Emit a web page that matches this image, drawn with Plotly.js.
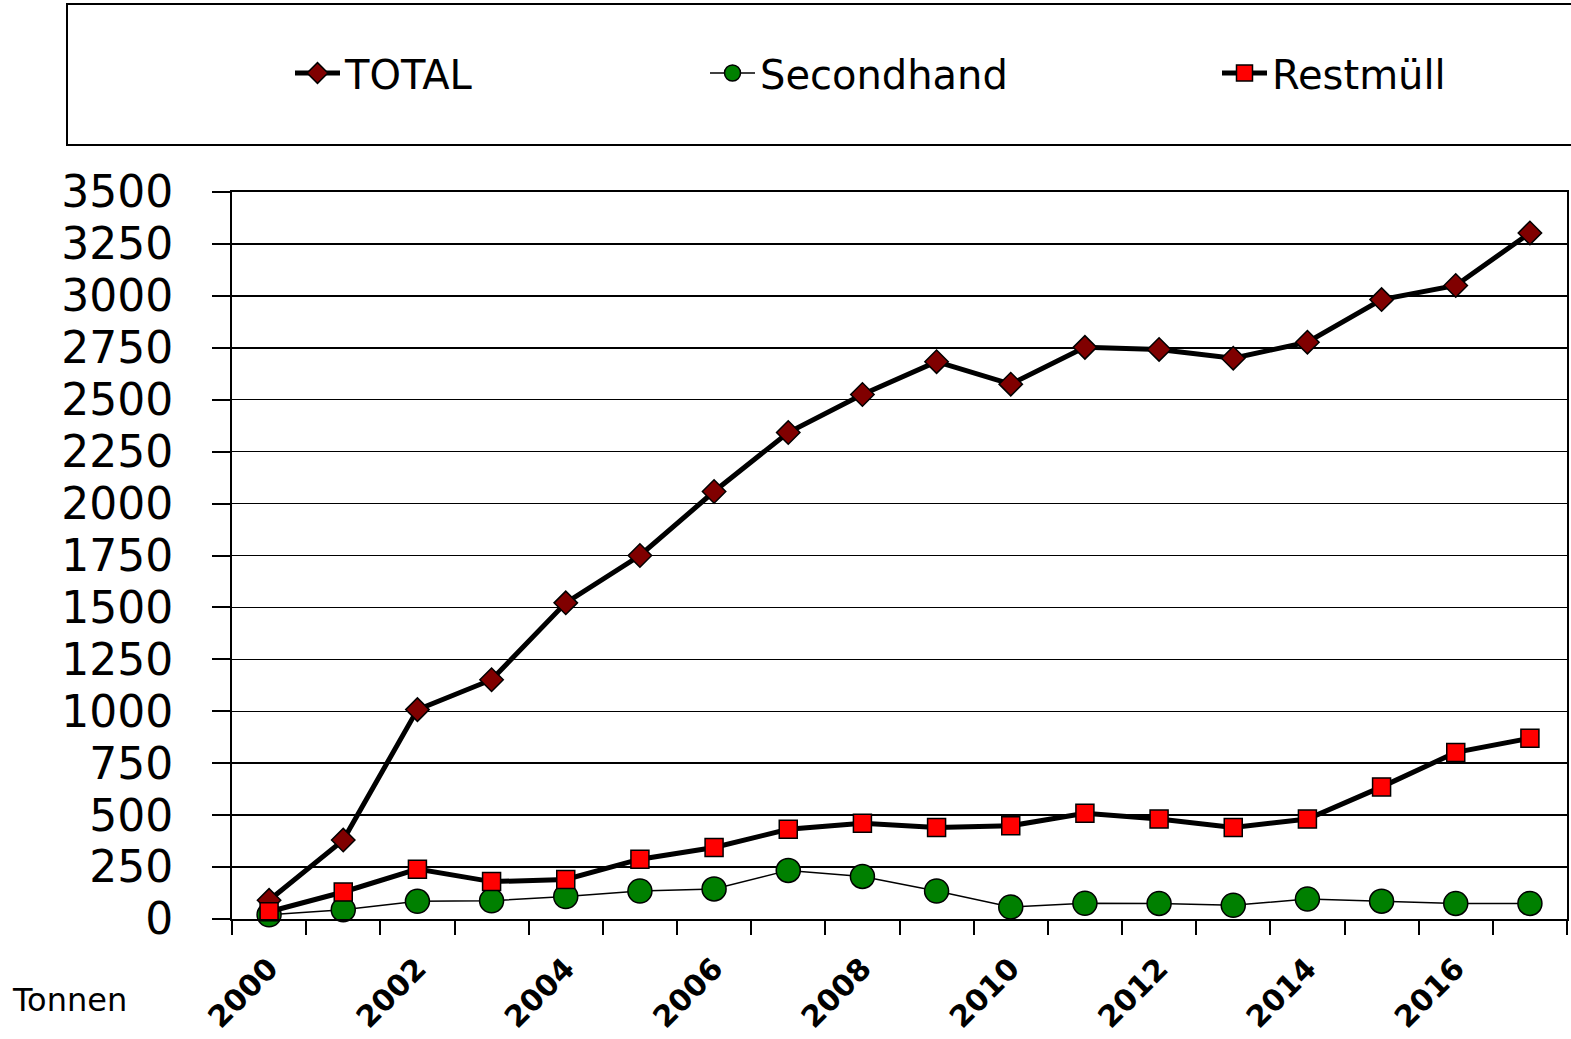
<!DOCTYPE html>
<html>
<head>
<meta charset="utf-8">
<script src="https://cdn.plot.ly/plotly-3.0.1.min.js"></script>
<style>html,body{margin:0;padding:0;background:#fff;}#chart{width:1571px;height:1039px;}</style>
</head>
<body>
<div id="chart"></div>
<script>
// Data (tonnes per year)
const years = [2000, 2001, 2002, 2003, 2004, 2005, 2006, 2007, 2008, 2009, 2010, 2011, 2012, 2013, 2014, 2015, 2016, 2017];
const totalValues = [90, 380, 1008, 1152, 1522, 1750, 2058, 2342, 2525, 2683, 2575, 2752, 2742, 2700, 2777, 2982, 3050, 3303];
const secondhandValues = [20, 45, 85, 88, 108, 135, 145, 234, 205, 135, 58, 76, 75, 66, 96, 86, 75, 75];
const restmuellValues = [35, 130, 240, 180, 190, 288, 344, 432, 461, 441, 449, 509, 481, 441, 481, 636, 802, 870];
const xTickYears = [2000, 2002, 2004, 2006, 2008, 2010, 2012, 2014, 2016];
const xTickLabels = ["2000", "2002", "2004", "2006", "2008", "2010", "2012", "2014", "2016"];
const yTicks = [0, 250, 500, 750, 1000, 1250, 1500, 1750, 2000, 2250, 2500, 2750, 3000, 3250, 3500];
const seriesNames = ["TOTAL", "Secondhand", "Restmüll"];

const FONT = "DejaVu Sans, Liberation Sans, sans-serif";

const traces = [
  {
    x: years, y: totalValues, name: seriesNames[0], type: "scatter", mode: "lines+markers",
    line: {color: "#000000", width: 5},
    marker: {symbol: "diamond", size: 18, color: "#800000", line: {color: "#000000", width: 1.5}},
    cliponaxis: false, legend: "legend"
  },
  {
    x: years, y: secondhandValues, name: seriesNames[1], type: "scatter", mode: "lines+markers",
    line: {color: "#000000", width: 1.5},
    marker: {symbol: "circle", size: 24, color: "#008000", line: {color: "#000000", width: 1.5}},
    cliponaxis: false, legend: "legend2"
  },
  {
    x: years, y: restmuellValues, name: seriesNames[2], type: "scatter", mode: "lines+markers",
    line: {color: "#000000", width: 5},
    marker: {symbol: "square", size: 18, color: "#FF0000", line: {color: "#000000", width: 1.5}},
    cliponaxis: false, legend: "legend3"
  }
];

const W = 1571, H = 1039, ML = 232, MR = 4, MT = 192, MB = 120;
const PW = W - ML - MR, PH = H - MT - MB;
function px(x) { return (x - ML) / PW; }
function py(y) { return (H - MB - y) / PH; }

function leg(xpix) {
  return {
    x: px(xpix), xanchor: "left", y: py(73), yanchor: "middle",
    orientation: "h", bgcolor: "rgba(0,0,0,0)", borderwidth: 0,
    font: {family: FONT, size: 40, color: "#000"}, itemwidth: 45
  };
}

const layout = {
  width: W, height: H,
  margin: {l: ML, r: MR, t: MT, b: MB, pad: 0},
  paper_bgcolor: "#ffffff", plot_bgcolor: "#ffffff",
  font: {family: FONT, color: "#000"},
  showlegend: true,
  legend: leg(290),
  legend2: leg(705),
  legend3: leg(1217),
  xaxis: {
    type: "linear", range: [1999.5, 2017.5], fixedrange: true,
    tickmode: "array", tickvals: xTickYears, ticktext: xTickLabels,
    tickangle: -45, ticks: "", ticklabelstandoff: 18,
    tickfont: {family: FONT, size: 30, color: "#000", weight: "bold"},
    showgrid: false, zeroline: false,
    showline: true, linecolor: "#000", linewidth: 2, mirror: true,
    minor: {tick0: 1999.5, dtick: 1, ticks: "outside", ticklen: 14, tickwidth: 2, tickcolor: "#000", showgrid: false}
  },
  yaxis: {
    range: [0, 3500], fixedrange: true,
    tickmode: "array", tickvals: yTicks, ticktext: yTicks.map(String),
    ticks: "outside", ticklen: 18, tickwidth: 2, tickcolor: "#000",
    ticklabelstandoff: 30,
    tickfont: {family: FONT, size: 44, color: "#000"},
    showgrid: true, gridcolor: "#000", gridwidth: 1.5, zeroline: false,
    showline: true, linecolor: "#000", linewidth: 2, mirror: true
  },
  shapes: [
    {type: "rect", xref: "paper", yref: "paper", x0: px(67), x1: px(1580), y0: py(145), y1: py(4),
     line: {color: "#000", width: 2}, fillcolor: "rgba(0,0,0,0)", layer: "above"}
  ],
  annotations: [
    {xref: "paper", yref: "paper", x: px(10), y: py(1000), xanchor: "left", yanchor: "middle",
     text: "Tonnen", showarrow: false, font: {family: FONT, size: 32, color: "#000"}}
  ]
};

Plotly.newPlot("chart", traces, layout, {displayModeBar: false, staticPlot: true});
</script>
</body>
</html>
